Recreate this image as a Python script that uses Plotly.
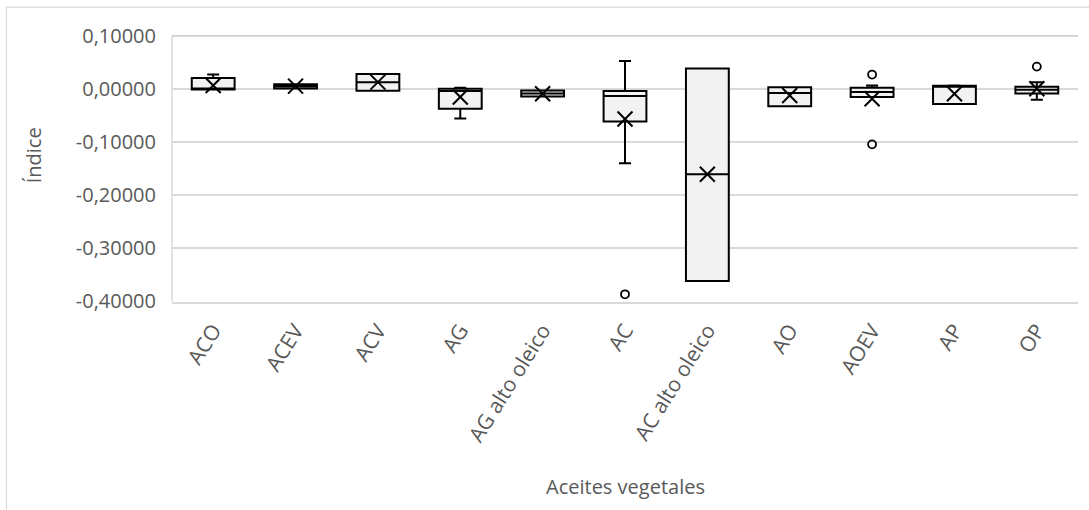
import plotly.graph_objects as go

categories = ["ACO", "ACEV", "ACV", "AG", "AG alto oleico", "AC", "AC alto oleico",
              "AO", "AOEV", "AP", "OP"]
q1_vals = [-0.0012, 0.0005, -0.0037, -0.0374, -0.0143, -0.0616, -0.3618, -0.0330, -0.0156, -0.0286, -0.0087]
median_vals = [-0.0005, 0.0050, 0.0125, -0.0044, -0.0087, -0.0137, -0.1607, -0.0081, -0.0062, 0.0056, -0.0019]
q3_vals = [0.0205, 0.0085, 0.0280, 0.0000, -0.0031, -0.0044, 0.0380, 0.0031, 0.0019, 0.0056, 0.0037]
lower_vals = [-0.0012, 0.0005, -0.0037, -0.0560, -0.0143, -0.1400, -0.3618, -0.0330, -0.0156, -0.0286, -0.0205]
upper_vals = [0.0268, 0.0085, 0.0280, 0.0019, -0.0031, 0.0523, 0.0380, 0.0031, 0.0062, 0.0062, 0.0125]
mean_vals = [0.0062, 0.0050, 0.0125, -0.0156, -0.0093, -0.0567, -0.1607, -0.0125, -0.0187, -0.0093, 0.0000]
outlier_cats = ["AC", "AOEV", "AOEV", "OP"]
outlier_vals = [-0.3867, 0.0268, -0.1046, 0.0417]

y_ticks = [0.1, 0.0, -0.1, -0.2, -0.3, -0.4]
y_tick_labels = ["0,10000", "0,00000", "-0,10000", "-0,20000", "-0,30000", "-0,40000"]

FONT = "Open Sans"
GRAY = "#595959"
GRID = "#D9D9D9"

fig = go.Figure()
fig.add_trace(go.Box(
    x=categories, q1=q1_vals, median=median_vals, q3=q3_vals,
    lowerfence=lower_vals, upperfence=upper_vals,
    boxpoints=False, width=0.52, whiskerwidth=0.28,
    fillcolor="#F2F2F2", line=dict(color="black", width=2),
    showlegend=False, hoverinfo="skip",
))
fig.add_trace(go.Scatter(
    x=categories, y=mean_vals, mode="markers",
    marker=dict(symbol="x-thin-open", size=15, color="black",
                line=dict(color="black", width=2)),
    showlegend=False, hoverinfo="skip",
))
fig.add_trace(go.Scatter(
    x=outlier_cats, y=outlier_vals, mode="markers",
    marker=dict(symbol="circle-open", size=8, color="black",
                line=dict(color="black", width=1.8)),
    showlegend=False, hoverinfo="skip",
))

L, R, T, B = 172, 11, 34.5, 208
W, H = 1089, 510
pw = W - L - R
ph = H - T - B

def px_x(p):
    return (p - L) / pw

def px_y(p):
    return (H - B - p) / ph

fig.update_layout(
    width=W, height=H,
    margin=dict(l=L, r=R, t=T, b=B),
    paper_bgcolor="white", plot_bgcolor="white",
    font=dict(family=FONT, color=GRAY, size=20),
    xaxis=dict(
        type="category", categoryorder="array", categoryarray=categories,
        range=[-0.5, len(categories) - 0.5],
        tickangle=-58, tickfont=dict(family=FONT, size=21, color=GRAY),
        showgrid=False, showline=True, linecolor=GRID, linewidth=1.5,
        ticks="", ticklabelstandoff=6,
    ),
    yaxis=dict(
        range=[-0.4012, 0.1012], tickvals=y_ticks, ticktext=y_tick_labels,
        tickfont=dict(family=FONT, size=20, color=GRAY),
        showgrid=True, gridcolor=GRID, gridwidth=1.5,
        zeroline=False, showline=False,
        ticks="", ticklabelstandoff=15,
    ),
    annotations=[
        dict(text="Índice", xref="paper", yref="paper",
             x=px_x(33), y=px_y(155), textangle=-90, showarrow=False,
             font=dict(family=FONT, size=20, color=GRAY),
             xanchor="center", yanchor="middle"),
        dict(text="Aceites vegetales", xref="paper", yref="paper",
             x=px_x(625), y=px_y(487), showarrow=False,
             font=dict(family=FONT, size=20, color=GRAY),
             xanchor="center", yanchor="middle"),
    ],
    shapes=[
        dict(type="rect", xref="paper", yref="paper",
             x0=px_x(6.5), x1=px_x(1094), y0=px_y(515), y1=px_y(6.5),
             line=dict(color=GRID, width=1.2), fillcolor="rgba(0,0,0,0)",
             layer="below"),
        dict(type="line", xref="paper", yref="y",
             x0=0, x1=0, y0=y_ticks[-1], y1=y_ticks[0],
             line=dict(color=GRID, width=1.5), layer="below"),
        dict(type="line", xref="paper", yref="y",
             x0=0, x1=1, y0=y_ticks[0], y1=y_ticks[0],
             line=dict(color="#D0D0D0", width=2), layer="above"),
    ],
)

fig.write_html("out.html", config={"displayModeBar": False},
               post_script="document.body.style.margin='0';document.body.style.overflow='hidden';")
